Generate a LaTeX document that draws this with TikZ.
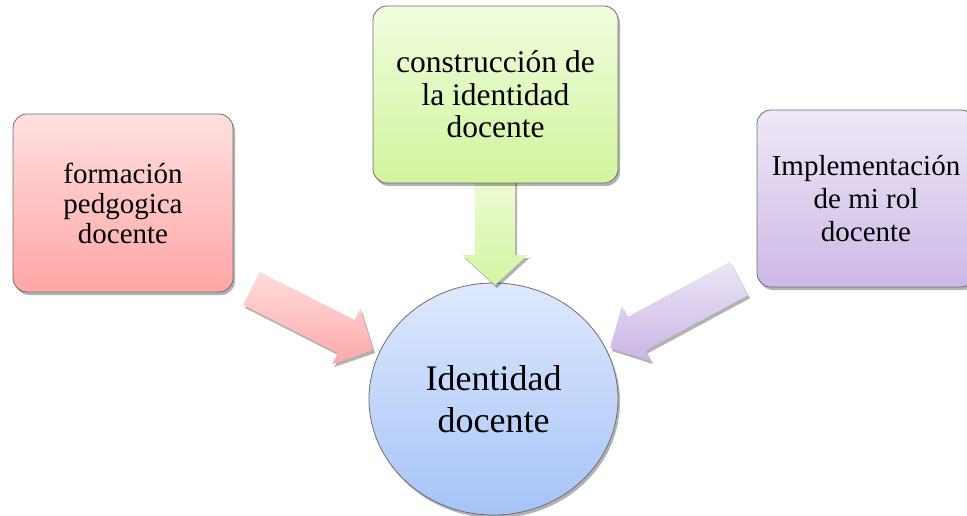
\documentclass[tikz,border=0pt]{standalone}
\usepackage{fontspec}
\setmainfont{Liberation Serif}
\usetikzlibrary{shapes.geometric,shadows,calc}
\definecolor{bordergray}{HTML}{6F6F6F}
\tikzset{
  myshadow/.style={drop shadow={shadow xshift=2pt,shadow yshift=-3pt,opacity=0.3,fill=black}},
  boxstyle/.style={draw=bordergray,line width=0.8pt,rounded corners=14pt,align=center,inner sep=0pt,myshadow},
  redbox/.style={boxstyle,top color=red1,bottom color=red2},
  greenbox/.style={boxstyle,top color=green1,bottom color=green2},
  violetbox/.style={boxstyle,top color=violet1,bottom color=violet2},
  circlestyle/.style={ellipse,draw=bordergray,line width=0.8pt,align=center,inner sep=0pt,myshadow,top color=blue1,bottom color=blue2},
  redarrow/.style={top color=red1a,bottom color=red2a,myshadow},
  greenarrow/.style={top color=green1a,bottom color=green2a,myshadow},
  violetarrow/.style={top color=violet1a,bottom color=violet2a,myshadow},
}
\definecolor{red1}{HTML}{FFE0E0}
\definecolor{red2}{HTML}{FFA5A5}
\definecolor{green1}{HTML}{F1FDDE}
\definecolor{green2}{HTML}{D1F49E}
\definecolor{violet1}{HTML}{EFE9F7}
\definecolor{violet2}{HTML}{CCB8E6}
\definecolor{blue1}{HTML}{DEE9FD}
\definecolor{blue2}{HTML}{A6C3F8}
\definecolor{red1a}{HTML}{FFDCDC}
\definecolor{red2a}{HTML}{FFA9A9}
\definecolor{green1a}{HTML}{EDFBD3}
\definecolor{green2a}{HTML}{D3F5A2}
\definecolor{violet1a}{HTML}{ECE5F6}
\definecolor{violet2a}{HTML}{CAB6E6}
% #1 style, #2 start, #3 tip, #4 shaft half width, #5 head half width, #6 head length
\newcommand\myblockarrow[6]{%
  \path coordinate (hb-#2) at ($(#3)!#6!(#2)$);
  \path[#1] ($(#2)!#4!90:(#3)$) -- ($(hb-#2)!#4!-90:(#2)$) -- ($(hb-#2)!#5!-90:(#2)$)
    -- (#3) -- ($(hb-#2)!#5!90:(#2)$) -- ($(hb-#2)!#4!90:(#2)$) -- ($(#2)!#4!-90:(#3)$) -- cycle;
}
\begin{document}
\begin{tikzpicture}[x=1pt,y=-1pt]
\useasboundingbox (0,0) rectangle (967,516);
\clip (0,0) rectangle (967,516);
\fill[white] (0,0) rectangle (967,516);

\node[circlestyle,minimum width=249pt,minimum height=232pt,font={\fontsize{36}{42}\selectfont}] (c) at (493.5,399)
  {Identidad\\docente};

\coordinate (ls) at (251.5,288.5);
\coordinate (le) at (373,350);
\coordinate (ts) at (495,178);
\coordinate (te) at (495,285);
\coordinate (rs) at (739,278.5);
\coordinate (re) at (610,348);
\myblockarrow{redarrow}{ls}{le}{18.5pt}{31pt}{30pt}
\myblockarrow{greenarrow}{ts}{te}{20pt}{32.5pt}{30pt}
\myblockarrow{violetarrow}{rs}{re}{19pt}{31pt}{30pt}

\node[redbox,minimum width=220pt,minimum height=178pt,font={\fontsize{29}{30}\selectfont}] (l) at (123,203)
  {formación\\pedgogica\\docente};
\node[greenbox,minimum width=245pt,minimum height=177pt,font={\fontsize{31.5}{32.5}\selectfont}] (t) at (495.5,94.5)
  {construcción de\\la identidad\\docente};
\node[violetbox,minimum width=218pt,minimum height=177pt,font={\fontsize{29}{33}\selectfont}] (r) at (866,198.5)
  {Implementación\\de mi rol\\docente};
\end{tikzpicture}
\end{document}
